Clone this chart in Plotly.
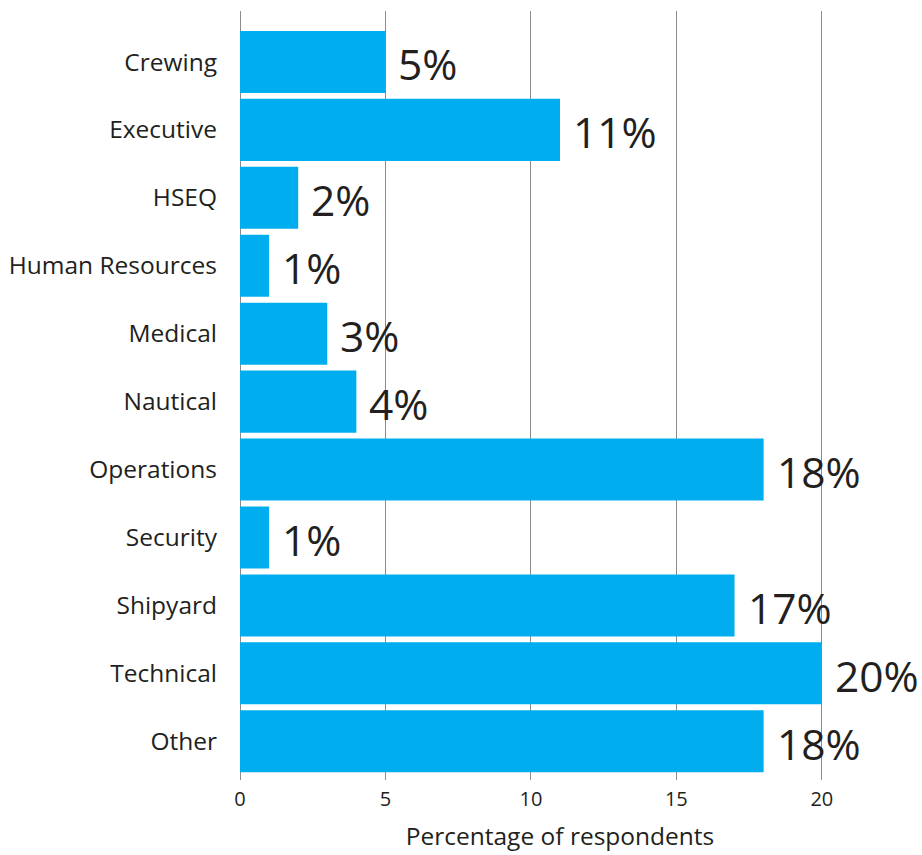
import plotly.graph_objects as go

# Share of respondents by department
departments = ["Crewing", "Executive", "HSEQ", "Human Resources", "Medical",
               "Nautical", "Operations", "Security", "Shipyard", "Technical", "Other"]
shares = [5, 11, 2, 1, 3, 4, 18, 1, 17, 20, 18]
x_ticks = [0, 5, 10, 15, 20]

BAR_COLOR = "#00aeef"
TEXT_COLOR = "#231f20"
FONT = "Open Sans"

fig = go.Figure(
    go.Bar(
        x=shares,
        y=departments,
        orientation="h",
        marker=dict(color=BAR_COLOR, line=dict(width=0)),
        hoverinfo="skip",
    )
)

# value labels to the right of each bar
for dep, val in zip(departments, shares):
    fig.add_annotation(
        x=val, y=dep, text=f"{val}%", showarrow=False,
        xanchor="left", yanchor="middle", xshift=11, yshift=-2,
        font=dict(family=FONT, size=42.5, color=TEXT_COLOR),
    )

fig.update_layout(
    width=922, height=855,
    margin=dict(l=240, r=42, t=11, b=75, autoexpand=False),
    paper_bgcolor="white", plot_bgcolor="white",
    bargap=0.087,
    showlegend=False,
    font=dict(family=FONT, color=TEXT_COLOR),
    xaxis=dict(
        range=[0, 22],
        tickvals=x_ticks,
        automargin=False,
        showgrid=True, gridcolor="#8c8c8c", gridwidth=1,
        zeroline=True, zerolinecolor="#8c8c8c", zerolinewidth=1,
        showline=False, ticks="",
        ticklabelstandoff=5,
        tickfont=dict(family=FONT, size=20, color=TEXT_COLOR),
        title=dict(text="Percentage of respondents", standoff=16,
                   font=dict(family=FONT, size=24.5, color=TEXT_COLOR)),
        fixedrange=True,
    ),
    yaxis=dict(
        categoryorder="array", categoryarray=departments,
        range=[10.57, -0.75],
        automargin=False,
        showgrid=False, zeroline=False, showline=False, ticks="",
        ticklabelstandoff=22,
        tickfont=dict(family=FONT, size=24.5, color=TEXT_COLOR),
        fixedrange=True,
    ),
)

fig.write_html("out.html")
